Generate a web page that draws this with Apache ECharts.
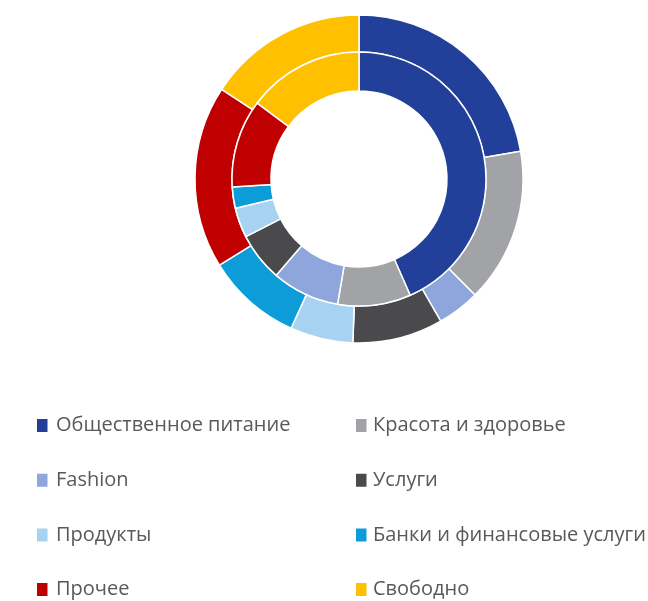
<!DOCTYPE html>
<html>
<head>
<meta charset="utf-8">
<script src="https://cdn.jsdelivr.net/npm/echarts@6/dist/echarts.min.js"></script>
<style>
  html, body { margin: 0; padding: 0; background: #ffffff; }
  #chart { width: 648px; height: 601px; }
</style>
</head>
<body>
<div id="chart"></div>
<script>
// Tenant categories (legend order)
const categories = [
  'Общественное питание',
  'Красота и здоровье',
  'Fashion',
  'Услуги',
  'Продукты',
  'Банки и финансовые услуги',
  'Прочее',
  'Свободно'
];

// Outer ring shares, %
const outerShares = [22.3, 15.2, 4.2, 8.9, 6.2, 9.4, 18.0, 15.8];

// Inner ring shares, %
const innerShares = [43.4, 9.3, 8.6, 6.2, 3.8, 2.7, 11.2, 14.8];

const palette = ['#22409a', '#a1a3a6', '#8ea6dc', '#4a4a4d', '#a8d2f1', '#0c9dd9', '#c00000', '#ffc000'];

function toData(values) {
  return categories.map((name, i) => ({ name, value: values[i] }));
}

function legendColumn(left, names, textPad) {
  return {
    orient: 'vertical', left: left, top: 415.5, height: 190,
    padding: 0,
    itemWidth: 12.5, itemHeight: 15, itemGap: 34.7,
    icon: 'rect', selectedMode: false,
    textStyle: {
      fontFamily: 'Open Sans', fontSize: 20, color: '#595959',
      lineHeight: 20, padding: [0, 0, 0, textPad]
    },
    data: names
  };
}

const chart = echarts.init(document.getElementById('chart'), null, { renderer: 'canvas' });
chart.setOption({
  animation: false,
  color: palette,
  legend: [
    legendColumn(35, [categories[0], categories[2], categories[4], categories[6]], 2.5),
    legendColumn(354, [categories[1], categories[3], categories[5], categories[7]], 0.5)
  ],
  series: [
    {
      type: 'pie', name: 'outer',
      center: [359, 179], radius: [127, 164],
      startAngle: 90, clockwise: true,
      label: { show: false }, labelLine: { show: false },
      emphasis: { disabled: true },
      itemStyle: { borderColor: '#ffffff', borderWidth: 1.5 },
      data: toData(outerShares)
    },
    {
      type: 'pie', name: 'inner',
      center: [359, 179], radius: [88, 127],
      startAngle: 90, clockwise: true,
      label: { show: false }, labelLine: { show: false },
      emphasis: { disabled: true },
      itemStyle: { borderColor: '#ffffff', borderWidth: 1.5 },
      data: toData(innerShares)
    }
  ]
});
</script>
</body>
</html>
